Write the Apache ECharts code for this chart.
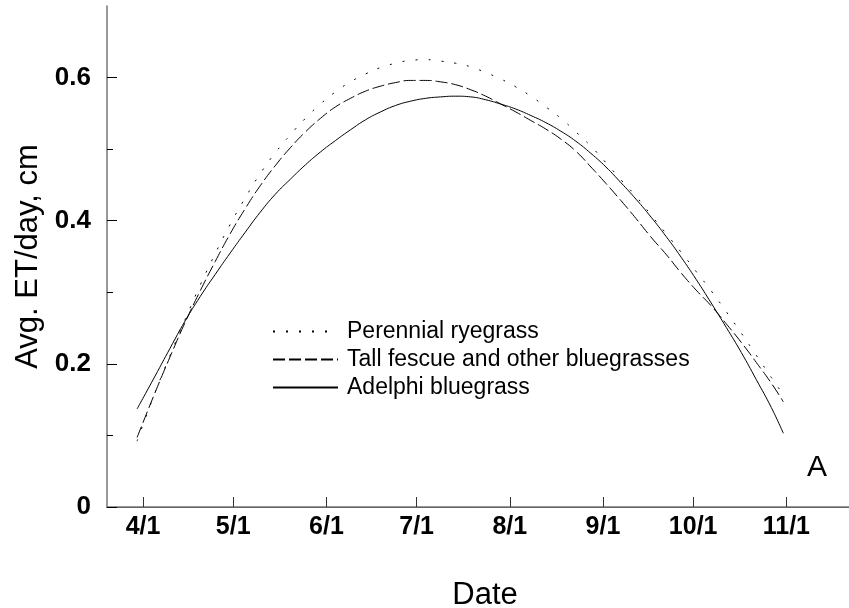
<!DOCTYPE html>
<html>
<head>
<meta charset="utf-8">
<script src="https://cdn.jsdelivr.net/npm/echarts@6/dist/echarts.min.js"></script>
<style>
  html, body { margin: 0; padding: 0; background: #fff; }
  #chart { width: 849px; height: 608px; }
</style>
</head>
<body>
<div id="chart"></div>
<script>
  // day of year (non-leap), Apr 1 = 91
  const days = [89, 95, 100, 105, 110, 115, 120, 125, 130, 135, 140, 145, 150, 155, 160, 165,
    170, 175, 180, 185, 190, 195, 200, 205, 210, 215, 220, 225, 230, 235, 240, 245,
    250, 255, 260, 265, 270, 275, 280, 285, 290, 295, 300, 304]

  const perennialRyegrass = [0.092, 0.160, 0.212, 0.262, 0.310, 0.354, 0.395, 0.432, 0.466, 0.495,
    0.520, 0.543, 0.563, 0.580, 0.594, 0.605, 0.614, 0.620, 0.624, 0.625, 0.623, 0.620,
    0.615, 0.607, 0.598, 0.587, 0.574, 0.559, 0.543, 0.524, 0.504, 0.481, 0.457, 0.434,
    0.408, 0.382, 0.356, 0.329, 0.302, 0.273, 0.243, 0.212, 0.181, 0.157]

  const tallFescue = [0.097, 0.160, 0.210, 0.258, 0.302, 0.343, 0.382, 0.417, 0.449, 0.477,
    0.502, 0.524, 0.543, 0.559, 0.571, 0.581, 0.588, 0.593, 0.596, 0.596, 0.594, 0.590,
    0.583, 0.574, 0.563, 0.552, 0.540, 0.528, 0.514, 0.497, 0.475, 0.452, 0.428, 0.403,
    0.377, 0.353, 0.327, 0.303, 0.281, 0.256, 0.230, 0.202, 0.173, 0.147]

  const adelphi = [0.137, 0.183, 0.222, 0.260, 0.294, 0.325, 0.355, 0.384, 0.412, 0.437,
    0.458, 0.478, 0.496, 0.512, 0.527, 0.541, 0.552, 0.561, 0.567, 0.571, 0.573, 0.574,
    0.573, 0.569, 0.563, 0.556, 0.547, 0.537, 0.525, 0.511, 0.494, 0.475, 0.453, 0.430,
    0.405, 0.378, 0.349, 0.318, 0.285, 0.251, 0.216, 0.178, 0.139, 0.103]

  const tickDays = [91, 121, 152, 182, 213, 244, 274, 305]
  const tickLabels = ['4/1', '5/1', '6/1', '7/1', '8/1', '9/1', '10/1', '11/1']
  const yMajor = [0, 0.2, 0.4, 0.6]
  const yMinor = [0.1, 0.3, 0.5]

  function pairs (values) {
    return days.map(function (d, i) { return [d, values[i]] })
  }

  const chart = echarts.init(document.getElementById('chart'))
  const labelFont = { fontFamily: 'Liberation Sans', color: '#000' }

  chart.setOption({
    animation: false,
    title: {
      text: 'A',
      right: 22,
      top: 453,
      padding: 0,
      textStyle: { fontFamily: 'Liberation Sans', fontSize: 30, fontWeight: 'normal', color: '#000' }
    },
    legend: {
      orient: 'vertical',
      left: 267,
      top: 315,
      itemWidth: 65,
      itemHeight: 14,
      itemGap: 5,
      selectedMode: false,
      itemStyle: { opacity: 0 },
      textStyle: { fontFamily: 'Liberation Sans', fontSize: 23, color: '#000', padding: [0, 0, 0, 4] },
      data: ['Perennial ryegrass', 'Tall fescue and other bluegrasses', 'Adelphi bluegrass']
    },
    grid: { left: 107, top: 6, right: -14, bottom: 101, outerBoundsMode: 'none' },
    xAxis: [{
      type: 'value',
      min: 79,
      max: 330.5,
      name: 'Date',
      nameLocation: 'middle',
      nameGap: 73,
      nameTextStyle: { fontFamily: 'Liberation Sans', fontSize: 31, color: '#000' },
      splitLine: { show: false },
      axisLine: { lineStyle: { color: '#333', width: 1 } },
      axisTick: { inside: true, length: 10, customValues: tickDays, lineStyle: { color: '#333' } },
      axisLabel: Object.assign({
        customValues: tickDays,
        margin: 8,
        fontSize: 25,
        fontWeight: 'bold',
        formatter: function (v) { return tickLabels[tickDays.indexOf(v)] }
      }, labelFont)
    }, {
      type: 'value',
      position: 'top',
      min: 79,
      max: 330.5,
      splitLine: { show: false },
      axisLine: { lineStyle: { color: '#777', width: 1.5 } },
      axisTick: { show: false },
      axisLabel: { show: false }
    }],
    yAxis: [{
      type: 'value',
      position: 'left',
      min: 0,
      max: 0.7,
      name: 'Avg. ET/day, cm',
      nameLocation: 'middle',
      nameGap: 62,
      nameTextStyle: { fontFamily: 'Liberation Sans', fontSize: 31, color: '#000' },
      splitLine: { show: false },
      axisLine: { show: true, lineStyle: { color: '#777', width: 1.5 } },
      axisTick: { inside: true, length: 10, customValues: yMajor, lineStyle: { color: '#000' } },
      axisLabel: Object.assign({
        customValues: yMajor,
        margin: 16,
        fontSize: 26,
        fontWeight: 'bold'
      }, labelFont)
    }, {
      type: 'value',
      position: 'left',
      min: 0,
      max: 0.7,
      splitLine: { show: false },
      axisLine: { show: false },
      axisTick: { inside: true, length: 6, customValues: yMinor, lineStyle: { color: '#000' } },
      axisLabel: { show: false }
    }],
    series: [{
      name: 'Perennial ryegrass',
      type: 'line',
      smooth: true,
      symbol: 'none',
      data: pairs(perennialRyegrass),
      lineStyle: { color: '#000', width: 1, type: [2, 11] },
      itemStyle: { color: '#000' }
    }, {
      name: 'Tall fescue and other bluegrasses',
      type: 'line',
      smooth: true,
      symbol: 'none',
      data: pairs(tallFescue),
      lineStyle: { color: '#000', width: 1, type: [12, 4] },
      itemStyle: { color: '#000' }
    }, {
      name: 'Adelphi bluegrass',
      type: 'line',
      smooth: true,
      symbol: 'none',
      data: pairs(adelphi),
      lineStyle: { color: '#000', width: 1 },
      itemStyle: { color: '#000' }
    }]
  })
</script>
</body>
</html>
